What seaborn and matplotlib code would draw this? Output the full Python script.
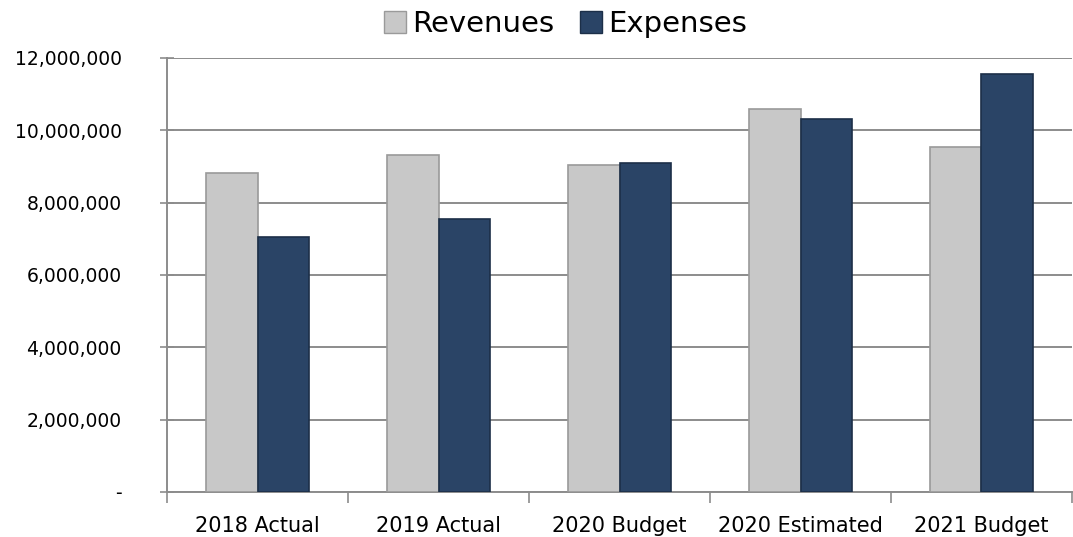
import numpy as np
import pandas as pd
import matplotlib
matplotlib.use("Agg")
import matplotlib.pyplot as plt
from matplotlib.ticker import FuncFormatter, FixedLocator
from matplotlib.patches import Patch
import seaborn as sns

categories = ["2018 Actual", "2019 Actual", "2020 Budget", "2020 Estimated", "2021 Budget"]
revenues = [8810000, 9310000, 9030000, 10580000, 9530000]
expenses = [7040000, 7540000, 9090000, 10300000, 11570000]

REV_COLOR = "#c8c8c8"
EXP_COLOR = "#2a4466"


def fmt(v, _pos):
    return "-" if abs(v) < 1 else f"{v:,.0f}"


def main():
    sns.set_theme(style="white")
    plt.rcParams["font.family"] = ["DejaVu Sans"]
    plt.rcParams["text.color"] = "black"

    df = pd.DataFrame({
        "category": categories * 2,
        "series": ["Revenues"] * len(categories) + ["Expenses"] * len(categories),
        "value": revenues + expenses,
    })

    fig = plt.figure(figsize=(10.73, 5.37), dpi=100)
    ax = fig.add_axes([0.156, 0.084, 0.843, 0.808])

    sns.barplot(data=df, x="category", y="value", hue="series",
                palette={"Revenues": REV_COLOR, "Expenses": EXP_COLOR},
                saturation=1, width=0.57, gap=0, ax=ax, legend=False, zorder=3)

    for bar, series in zip(ax.patches, ["Revenues"] * 5 + ["Expenses"] * 5):
        bar.set_edgecolor("#9a9a9a" if series == "Revenues" else "#1c2f48")
        bar.set_linewidth(1.2)

    ax.set_ylim(0, 12000000)
    ax.set_xlim(-0.5, len(categories) - 0.5)
    ax.yaxis.set_major_locator(FixedLocator(np.arange(0, 12000001, 2000000)))
    ax.yaxis.set_major_formatter(FuncFormatter(fmt))
    ax.yaxis.grid(True, color="#8c8c8c", linewidth=1.4, zorder=0)
    ax.set_axisbelow(True)

    ax.set_xlabel("")
    ax.set_ylabel("")
    ax.tick_params(axis="x", which="major", bottom=False, length=0, labelsize=15,
                   labelcolor="black", pad=17)
    ax.xaxis.set_minor_locator(FixedLocator(np.arange(-0.5, len(categories), 1.0)))
    ax.tick_params(axis="x", which="minor", bottom=True, length=8, width=1.2,
                   color="#8c8c8c", direction="out")
    ax.tick_params(axis="y", which="major", left=True, length=10, width=1.2,
                   color="#8c8c8c", direction="inout", labelsize=13.5,
                   labelcolor="black", pad=28)

    for side in ["top", "right"]:
        ax.spines[side].set_visible(False)
    for side in ["left", "bottom"]:
        ax.spines[side].set_color("#8c8c8c")
        ax.spines[side].set_linewidth(1.4)

    handles = [
        Patch(facecolor=REV_COLOR, edgecolor="#9a9a9a", label="Revenues"),
        Patch(facecolor=EXP_COLOR, edgecolor="#1c2f48", label="Expenses"),
    ]
    fig.legend(handles=handles, loc="upper center", bbox_to_anchor=(0.527, 1.03),
               ncol=2, frameon=False, fontsize=21, handlelength=0.75,
               handleheight=0.75, handletextpad=0.2, columnspacing=0.9)

    fig.savefig("out.png", dpi=100)
    plt.close(fig)


if __name__ == "__main__":
    main()
